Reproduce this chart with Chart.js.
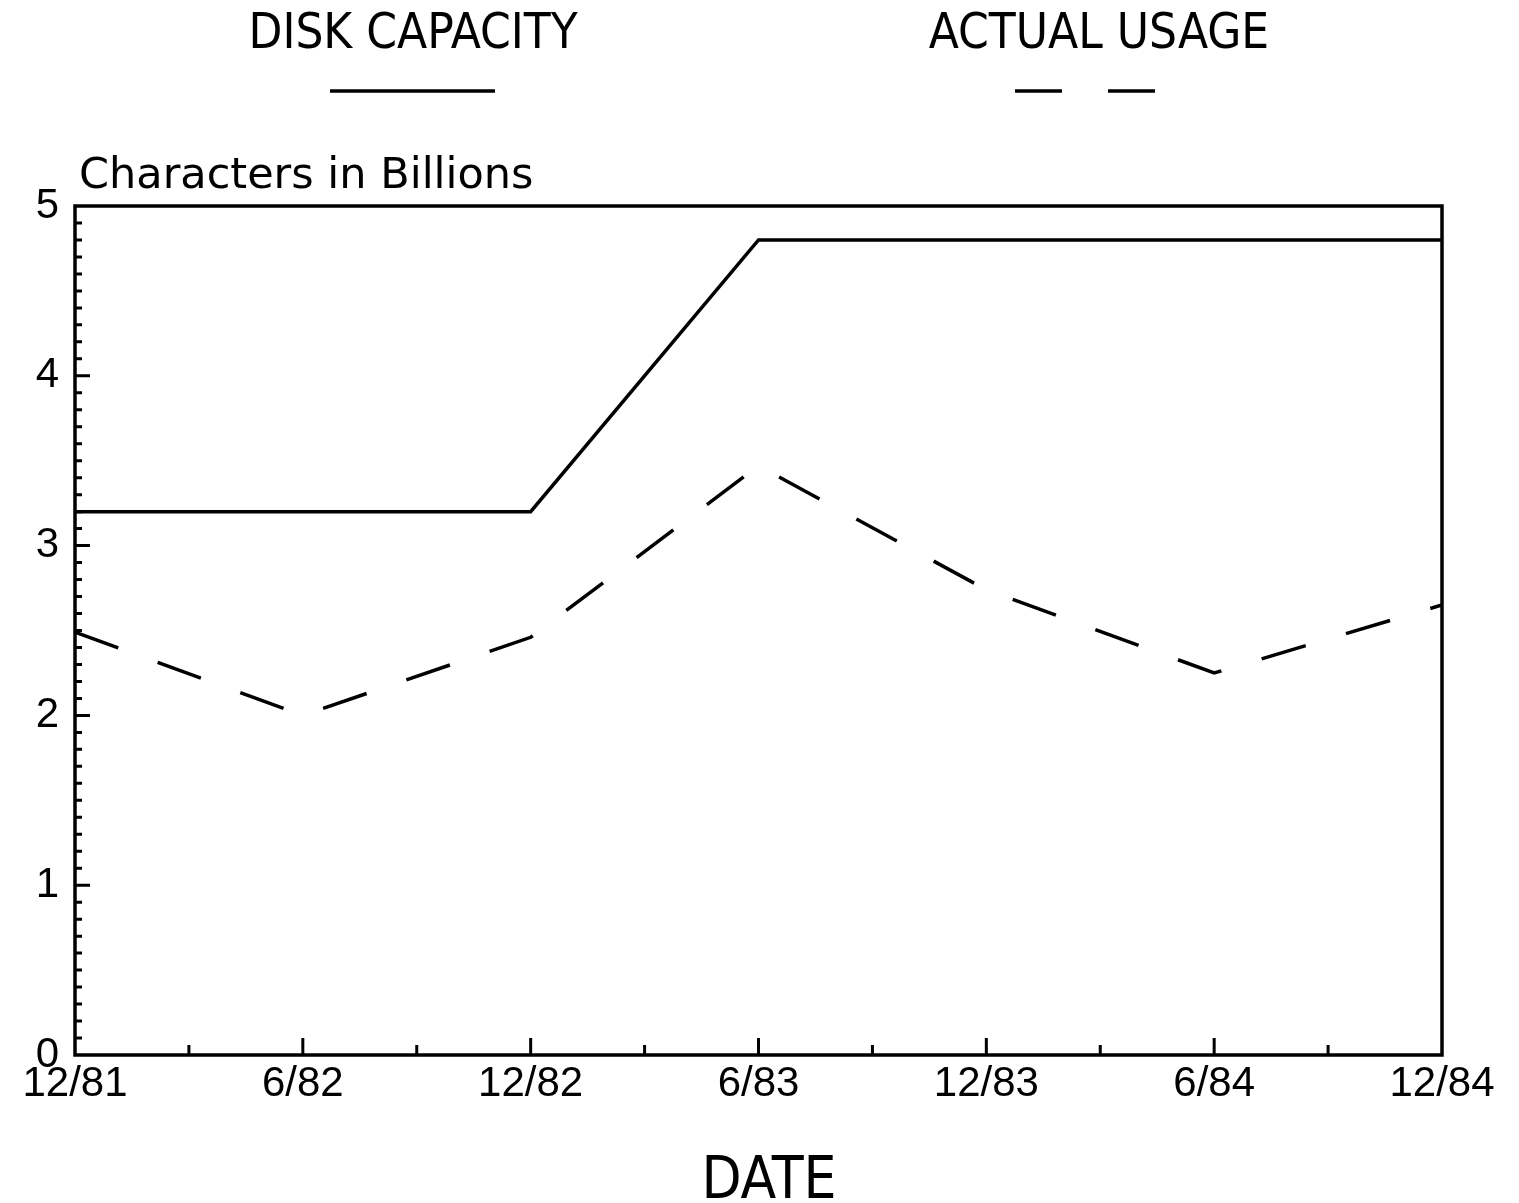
<!DOCTYPE html>
<html>
<head>
<meta charset="utf-8">
<script src="https://cdn.jsdelivr.net/npm/chart.js@4"></script>
<style>
  body { margin: 0; background: #fff; }
  #wrap { width: 1519px; height: 1203px; }
</style>
</head>
<body>
<div id="wrap"><canvas id="diskChart" width="1519" height="1203"></canvas></div>
<script>
// months after 12/81
const months = [0, 6, 12, 18, 24, 30, 36];
const dateLabels = ["12/81", "6/82", "12/82", "6/83", "12/83", "6/84", "12/84"];
const diskCapacity = [3.2, 3.2, 3.2, 4.8, 4.8, 4.8, 4.8];
const actualUsage = [2.49, 2.0, 2.46, 3.47, 2.74, 2.25, 2.65];
const seriesNames = ["DISK CAPACITY", "ACTUAL USAGE"];
const yLabel = "Characters in Billions";
const xLabel = "DATE";

const NARROW = '"Liberation Sans Narrow", "DejaVu Sans Condensed", sans-serif';
const DASH = [46, 42];

const toPoints = vals => months.map((m, i) => ({ x: m, y: vals[i] }));

// frame, inward ticks, legend and axis texts
const decorations = {
  id: "decorations",
  afterDraw(chart) {
    const { ctx, chartArea: a, scales: { x, y } } = chart;
    ctx.save();
    ctx.strokeStyle = "#000";
    ctx.fillStyle = "#000";
    ctx.lineWidth = 3.5;
    ctx.strokeRect(a.left, a.top, a.right - a.left, a.bottom - a.top);

    ctx.lineWidth = 3;
    ctx.beginPath();
    for (let m = 3; m < 36; m += 3) {
      const px = x.getPixelForValue(m);
      const len = m % 6 === 0 ? 17 : 10;
      ctx.moveTo(px, a.bottom);
      ctx.lineTo(px, a.bottom - len);
    }
    for (let i = 1; i < 50; i++) {
      const py = y.getPixelForValue(i / 10);
      const len = i % 10 === 0 ? 15 : 7;
      ctx.moveTo(a.left, py);
      ctx.lineTo(a.left + len, py);
    }
    ctx.stroke();

    // legend: name on top, line sample below
    ctx.font = "49px " + NARROW;
    ctx.textAlign = "center";
    ctx.textBaseline = "alphabetic";
    ctx.fillText(seriesNames[0], 413, 48);
    ctx.fillText(seriesNames[1], 1099, 48);

    ctx.lineWidth = 3.5;
    ctx.beginPath();
    ctx.moveTo(330, 91);
    ctx.lineTo(495, 91);
    ctx.stroke();

    ctx.setLineDash([47, 46]);
    ctx.beginPath();
    ctx.moveTo(1015, 91);
    ctx.lineTo(1158, 91);
    ctx.stroke();
    ctx.setLineDash([]);

    ctx.font = '43px "DejaVu Sans", sans-serif';
    ctx.textAlign = "left";
    ctx.fillText(yLabel, a.left + 4, 188);

    ctx.font = "58px " + NARROW;
    ctx.textAlign = "center";
    ctx.fillText(xLabel, 769, 1198);
    ctx.restore();
  }
};

new Chart(document.getElementById("diskChart").getContext("2d"), {
  type: "line",
  data: {
    datasets: [{
      label: seriesNames[0],
      data: toPoints(diskCapacity),
      borderColor: "#000",
      borderWidth: 3.5,
      pointRadius: 0,
      tension: 0,
      fill: false
    }, {
      label: seriesNames[1],
      data: toPoints(actualUsage),
      borderColor: "#000",
      borderWidth: 3.5,
      borderDash: DASH,
      pointRadius: 0,
      tension: 0,
      fill: false
    }]
  },
  options: {
    responsive: false,
    animation: false,
    layout: { padding: { top: 206, right: 77, bottom: 88, left: 0 } },
    plugins: {
      legend: { display: false },
      tooltip: { enabled: false }
    },
    scales: {
      x: {
        type: "linear",
        min: 0,
        max: 36,
        afterFit: s => { s.height = 60; },
        grid: { display: false, drawTicks: false },
        border: { display: false },
        ticks: {
          stepSize: 6,
          autoSkip: false,
          maxRotation: 0,
          padding: 4,
          color: "#000",
          font: { family: "Liberation Sans", size: 42 },
          callback: v => dateLabels[months.indexOf(v)] ?? ""
        }
      },
      y: {
        min: 0,
        max: 5,
        afterFit: s => { s.width = 75; },
        grid: { display: false, drawTicks: false },
        border: { display: false },
        ticks: {
          stepSize: 1,
          padding: 16,
          color: "#000",
          font: { family: "Liberation Sans", size: 42 }
        }
      }
    }
  },
  plugins: [decorations]
});
</script>
</body>
</html>
